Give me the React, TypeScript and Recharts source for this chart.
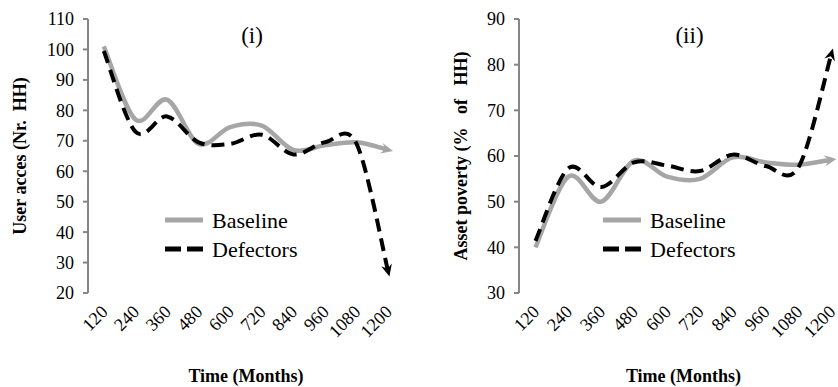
import React from 'react';
import { LineChart, Line, XAxis, YAxis, Legend } from 'recharts';

const months = ['120', '240', '360', '480', '600', '720', '840', '960', '1080', '1200'];
const accessBaseline = [101, 77, 83.5, 69, 74.5, 75, 67, 68.5, 69.5, 67];
const accessDefectors = [99.5, 73, 78, 69.5, 69, 72, 65.5, 69.5, 69, 27];
const povertyBaseline = [40, 55.5, 50, 59, 55.5, 55, 59.7, 58.6, 58.1, 59.2];
const povertyDefectors = [41.4, 57.3, 53.2, 58.6, 57.9, 56.7, 60.3, 57.8, 57.6, 82.5];
const accessTicks = [20, 30, 40, 50, 60, 70, 80, 90, 100, 110];
const povertyTicks = [30, 40, 50, 60, 70, 80, 90];
const boundaryTicks = [0, 1, 2, 3, 4, 5, 6, 7, 8, 9, 10];

const serif = '"Liberation Serif", "Times New Roman", serif';
const axisGray = '#868686';
const lineGray = '#a6a6a6';

// Excel-like smoothed line (Catmull-Rom through the points)
const smoothCurve = (context: any) => {
  let pts: number[][] = [];
  return {
    areaStart() {},
    areaEnd() {},
    lineStart() {
      pts = [];
    },
    lineEnd() {
      if (!pts.length) return;
      context.moveTo(pts[0][0], pts[0][1]);
      for (let i = 0; i < pts.length - 1; i++) {
        const p0 = pts[Math.max(0, i - 1)];
        const p1 = pts[i];
        const p2 = pts[i + 1];
        const p3 = pts[Math.min(pts.length - 1, i + 2)];
        context.bezierCurveTo(
          p1[0] + (p2[0] - p0[0]) / 6,
          p1[1] + (p2[1] - p0[1]) / 6,
          p2[0] - (p3[0] - p1[0]) / 6,
          p2[1] - (p3[1] - p1[1]) / 6,
          p2[0],
          p2[1]
        );
      }
    },
    point(x: number, y: number) {
      pts.push([+x, +y]);
    },
  };
};

// arrowhead on the last point only
const arrowDot = (color: string) => (props: any) => {
  const { cx, cy, index, points } = props;
  if (!points || index !== points.length - 1 || index < 1) return <g key={`d-${index}`} />;
  const prev = points[index - 1];
  let dx = cx - prev.x;
  let dy = cy - prev.y;
  const len = Math.hypot(dx, dy) || 1;
  dx /= len;
  dy /= len;
  const px = -dy;
  const py = dx;
  const pts = [
    [cx + dx * 5, cy + dy * 5],
    [cx - dx * 7 + px * 5.5, cy - dy * 7 + py * 5.5],
    [cx - dx * 3, cy - dy * 3],
    [cx - dx * 7 - px * 5.5, cy - dy * 7 - py * 5.5],
  ];
  return <polygon key={`d-${index}`} points={pts.map((p) => p.join(',')).join(' ')} fill={color} />;
};

const LegendBox = () => (
  <div style={{ fontFamily: serif, fontSize: 22, color: '#000' }}>
    <div style={{ display: 'flex', alignItems: 'center', height: 29 }}>
      <svg width={38} height={10}>
        <line x1={0} y1={5} x2={38} y2={5} stroke={lineGray} strokeWidth={5} />
      </svg>
      <span style={{ marginLeft: 9, lineHeight: '29px' }}>Baseline</span>
    </div>
    <div style={{ display: 'flex', alignItems: 'center', height: 29 }}>
      <svg width={38} height={10}>
        <line x1={0} y1={5} x2={38} y2={5} stroke="#000" strokeWidth={5} strokeDasharray="16 6" />
      </svg>
      <span style={{ marginLeft: 9, lineHeight: '29px' }}>Defectors</span>
    </div>
  </div>
);

const MonthTick = (props: any) => {
  const { x, y, payload } = props;
  const label = months[Math.round(payload.value - 0.5)];
  const ax = x + 5;
  const ay = y + 20;
  return (
    <text
      x={ax}
      y={ay}
      transform={`rotate(-45, ${ax}, ${ay})`}
      textAnchor="end"
      fontFamily={serif}
      fontSize={18}
      fill="#000"
    >
      {label}
    </text>
  );
};

interface PanelProps {
  baseline: number[];
  defectors: number[];
  domain: [number, number];
  ticks: number[];
  yTitle: string;
  yTitleOffset: number;
  tag: string;
  width: number;
  yAxisWidth: number;
  marginRight: number;
  legendLeft: number;
}

const Panel: React.FC<PanelProps> = (p) => {
  const data = months.map((m, i) => ({
    x: i + 0.5,
    month: m,
    baseline: p.baseline[i],
    defectors: p.defectors[i],
  }));
  const plotLeft = p.yAxisWidth;
  const plotRight = p.width - p.marginRight;

  return (
    <LineChart width={p.width} height={387} data={data} margin={{ top: 19, right: p.marginRight, left: 0, bottom: 0 }}>
      <XAxis
        xAxisId="bounds"
        type="number"
        dataKey="x"
        domain={[0, 10]}
        ticks={boundaryTicks}
        height={0}
        tick={false}
        tickSize={5}
        axisLine={{ stroke: axisGray, strokeWidth: 2 }}
        tickLine={{ stroke: axisGray, strokeWidth: 2 }}
      />
      <XAxis
        xAxisId="cat"
        type="number"
        dataKey="x"
        domain={[0, 10]}
        ticks={data.map((d) => d.x)}
        height={94}
        axisLine={false}
        tickLine={false}
        tickSize={0}
        tickMargin={0}
        interval={0}
        tick={<MonthTick />}
        label={{
          value: 'Time (Months)',
          position: 'insideBottom',
          offset: 5,
          style: { fontFamily: serif, fontSize: 18, fontWeight: 'bold', fill: '#000' },
        }}
      />
      <YAxis
        type="number"
        domain={p.domain}
        ticks={p.ticks}
        interval={0}
        width={p.yAxisWidth}
        tickSize={5}
        tickMargin={9}
        axisLine={{ stroke: axisGray, strokeWidth: 2 }}
        tickLine={{ stroke: axisGray, strokeWidth: 2 }}
        tick={{ fontFamily: serif, fontSize: 18, fill: '#000' }}
        label={{
          value: p.yTitle,
          angle: -90,
          position: 'insideLeft',
          offset: p.yTitleOffset,
          style: { fontFamily: serif, fontSize: 18, fontWeight: 'bold', fill: '#000', textAnchor: 'middle' },
        }}
      />
      <Legend
        layout="vertical"
        align="center"
        verticalAlign="middle"
        content={<LegendBox />}
        wrapperStyle={{ left: p.legendLeft, top: 205.5, width: 'auto' }}
      />
      <Line
        xAxisId="cat"
        type={smoothCurve as any}
        dataKey="baseline"
        stroke={lineGray}
        strokeWidth={4.5}
        dot={arrowDot(lineGray)}
        activeDot={false}
        isAnimationActive={false}
      />
      <Line
        xAxisId="cat"
        type={smoothCurve as any}
        dataKey="defectors"
        stroke="#000"
        strokeWidth={4}
        strokeDasharray="13 7"
        dot={arrowDot('#000')}
        activeDot={false}
        isAnimationActive={false}
      />
      <text x={(plotLeft + plotRight) / 2 + 6} y={43} textAnchor="middle" fontFamily={serif} fontSize={23} fill="#000">
        {p.tag}
      </text>
    </LineChart>
  );
};

export default function App() {
  return (
    <div style={{ position: 'absolute', left: 0, top: 0, width: 838, height: 387, overflow: 'hidden', background: '#fff' }}>
      <div style={{ position: 'absolute', left: 0, top: 0 }}>
        <Panel
          baseline={accessBaseline}
          defectors={accessDefectors}
          domain={[20, 110]}
          ticks={accessTicks}
          yTitle={'User acces (Nr.\u00A0 HH)'}
          yTitleOffset={20}
          tag="(i)"
          width={418}
          yAxisWidth={88}
          marginRight={14}
          legendLeft={165}
        />
      </div>
      <div style={{ position: 'absolute', left: 418, top: 0 }}>
        <Panel
          baseline={povertyBaseline}
          defectors={povertyDefectors}
          domain={[30, 90]}
          ticks={povertyTicks}
          yTitle={'Asset poverty (%\u00A0\u00A0\u00A0of\u00A0\u00A0\u00A0HH)'}
          yTitleOffset={43}
          tag="(ii)"
          width={440}
          yAxisWidth={101}
          marginRight={10}
          legendLeft={185}
        />
      </div>
    </div>
  );
}
